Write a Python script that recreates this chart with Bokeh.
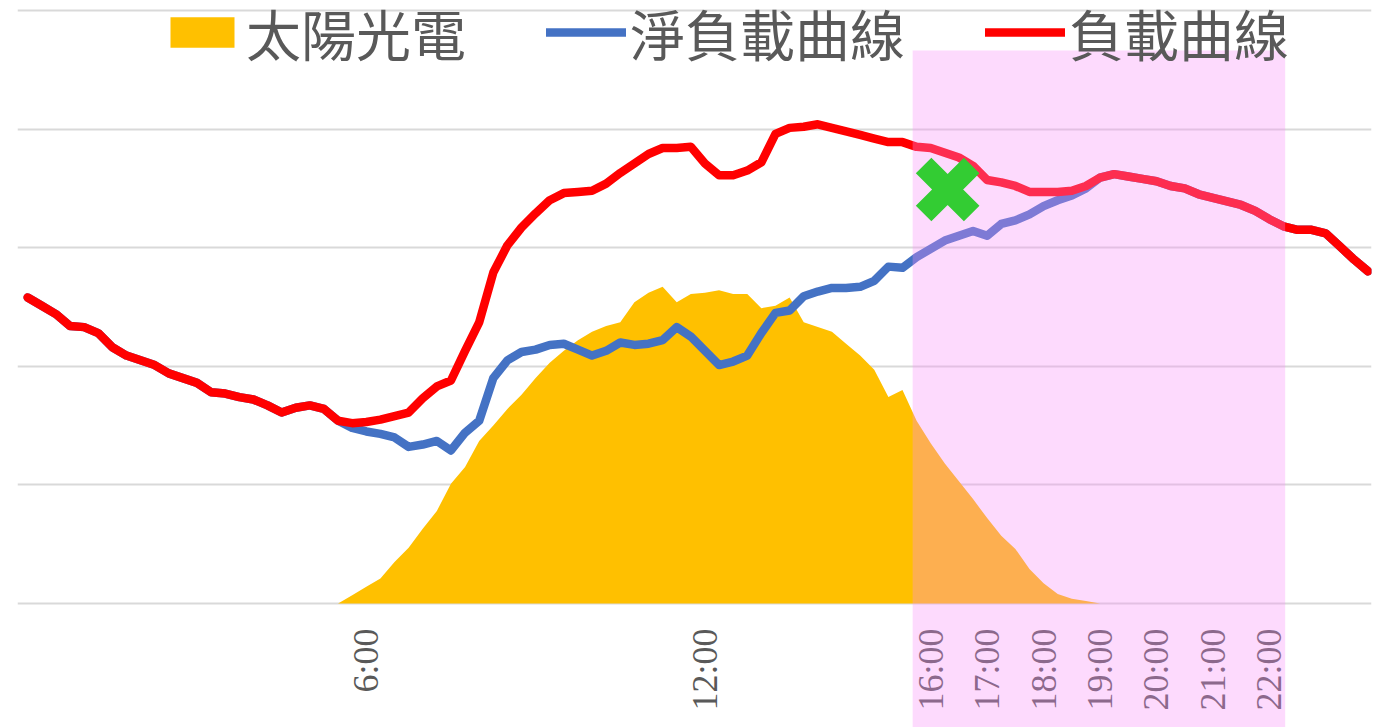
import math
from bokeh.plotting import figure
from bokeh.models import Range1d, Grid, FixedTicker, BoxAnnotation, Legend, LegendItem
from bokeh.core.properties import value
from bokeh.embed import file_html
from bokeh.resources import INLINE

# ---------------- data (15-minute steps, 0:00 .. 23:45) ----------------
hours = [i * 0.25 for i in range(96)]

load = [2.58, 2.51, 2.44, 2.34, 2.33, 2.28, 2.16, 2.09, 2.05, 2.01,
        1.94, 1.90, 1.86, 1.78, 1.77, 1.74, 1.72, 1.67, 1.61, 1.65,
        1.67, 1.64, 1.54, 1.52, 1.53, 1.55, 1.58, 1.61, 1.73, 1.83,
        1.88, 2.13, 2.37, 2.79, 3.02, 3.17, 3.29, 3.40, 3.46, 3.47,
        3.48, 3.54, 3.63, 3.71, 3.79, 3.84, 3.84, 3.85, 3.71, 3.61,
        3.61, 3.65, 3.72, 3.96, 4.01, 4.02, 4.04, 4.01, 3.98, 3.95,
        3.92, 3.89, 3.89, 3.85, 3.84, 3.80, 3.76, 3.69, 3.57, 3.55,
        3.52, 3.47, 3.47, 3.47, 3.48, 3.52, 3.59, 3.62, 3.60, 3.58,
        3.56, 3.52, 3.50, 3.45, 3.42, 3.39, 3.36, 3.31, 3.24, 3.18,
        3.15, 3.15, 3.12, 3.01, 2.90, 2.80]

net_load = [2.58, 2.51, 2.44, 2.34, 2.33, 2.28, 2.16, 2.09, 2.05, 2.01,
            1.94, 1.90, 1.86, 1.78, 1.77, 1.74, 1.72, 1.67, 1.61, 1.65,
            1.67, 1.64, 1.54, 1.48, 1.45, 1.43, 1.40, 1.32, 1.34, 1.37,
            1.29, 1.44, 1.54, 1.90, 2.05, 2.12, 2.14, 2.18, 2.19, 2.14,
            2.09, 2.13, 2.20, 2.18, 2.19, 2.22, 2.33, 2.25, 2.13, 2.01,
            2.04, 2.09, 2.28, 2.45, 2.47, 2.59, 2.63, 2.66, 2.66, 2.67,
            2.72, 2.84, 2.83, 2.92, 2.99, 3.06, 3.10, 3.14, 3.10, 3.20,
            3.23, 3.28, 3.35, 3.40, 3.44, 3.50, 3.59, 3.62, 3.60, 3.58,
            3.56, 3.52, 3.50, 3.45, 3.42, 3.39, 3.36, 3.31, 3.24, 3.18,
            3.15, 3.15, 3.12, 3.01, 2.90, 2.80]

solar = [0, 0, 0, 0, 0, 0, 0, 0, 0, 0,
         0, 0, 0, 0, 0, 0, 0, 0, 0, 0,
         0, 0, 0, 0.07, 0.14, 0.21, 0.35, 0.47, 0.63, 0.78,
         1.01, 1.15, 1.37, 1.50, 1.64, 1.76, 1.90, 2.03, 2.13, 2.22,
         2.29, 2.34, 2.37, 2.54, 2.62, 2.67, 2.54, 2.61, 2.62, 2.64,
         2.61, 2.61, 2.49, 2.51, 2.58, 2.37, 2.33, 2.29, 2.19, 2.09,
         1.97, 1.74, 1.80, 1.54, 1.35, 1.18, 1.03, 0.88, 0.72, 0.57,
         0.46, 0.29, 0.17, 0.08, 0.04, 0.02, 0, 0, 0, 0,
         0, 0, 0, 0, 0, 0, 0, 0, 0, 0,
         0, 0, 0, 0, 0, 0]

tick_hours = [6, 12, 16, 17, 18, 19, 20, 21, 22]
tick_labels = ["6:00", "12:00", "16:00", "17:00", "18:00", "19:00", "20:00", "21:00", "22:00"]

series_names = ["太陽光電", "淨負載曲線", "負載曲線"]

peak_window = (15.68, 22.28)      # highlighted evening period (hours)
marker_hour = [16.3]
marker_value = [3.49]

# ---------------- figure ----------------
Y_MIN, Y_MAX = -1.046, 5.084
p = figure(width=1384, height=727,
           x_range=Range1d(-0.18, 23.81), y_range=Range1d(Y_MIN, Y_MAX),
           output_backend="svg", toolbar_location=None,
           x_axis_location=None, y_axis_location=None,
           min_border_left=17, min_border_right=13, min_border_top=0, min_border_bottom=0)
p.outline_line_color = None
p.background_fill_color = "white"
p.border_fill_color = "white"
for g in p.grid:
    g.visible = False

grid = Grid(dimension=1, ticker=FixedTicker(ticks=[0, 1, 2, 3, 4, 5]),
            grid_line_color="#D9D9D9", grid_line_width=2)
p.add_layout(grid)

r_solar = p.varea(x=hours, y1=[0] * len(hours), y2=solar, fill_color="#FFC000")
r_net = p.line(hours, net_load, line_color="#4472C4", line_width=8.5,
               line_join="round", line_cap="round")
r_load = p.line(hours, load, line_color="#FF0000", line_width=8.5,
                line_join="round", line_cap="round")

# category labels (drawn inside the frame so the highlight band covers them)
p.text(x=tick_hours, y=[-0.211] * len(tick_hours), text=tick_labels,
       angle=math.pi / 2, text_align="right", text_baseline="middle",
       text_font=value("Liberation Serif"), text_font_size="36px",
       text_color="#595959")

legend = Legend(items=[LegendItem(label=series_names[0], renderers=[r_solar]),
                       LegendItem(label=series_names[1], renderers=[r_net]),
                       LegendItem(label=series_names[2], renderers=[r_load])],
                orientation="horizontal", location=(145, 655),
                glyph_width=80, glyph_height=38, label_standoff=4, spacing=80,
                padding=0, margin=0,
                label_text_font="Noto Sans CJK TC", label_text_font_size="55px",
                label_text_color="#595959",
                border_line_alpha=0, background_fill_alpha=0)
p.add_layout(legend)

band = BoxAnnotation(left=peak_window[0], right=peak_window[1], top=4.663, bottom=Y_MIN,
                     fill_color="#FA8CF8", fill_alpha=0.32, line_alpha=0,
                     level="annotation")
p.add_layout(band)

p.scatter(x=marker_hour, y=marker_value, marker="x", size=68,
          line_color="#33CC33", line_width=22, level="overlay")

open("out.html", "w").write(file_html(p, INLINE))
